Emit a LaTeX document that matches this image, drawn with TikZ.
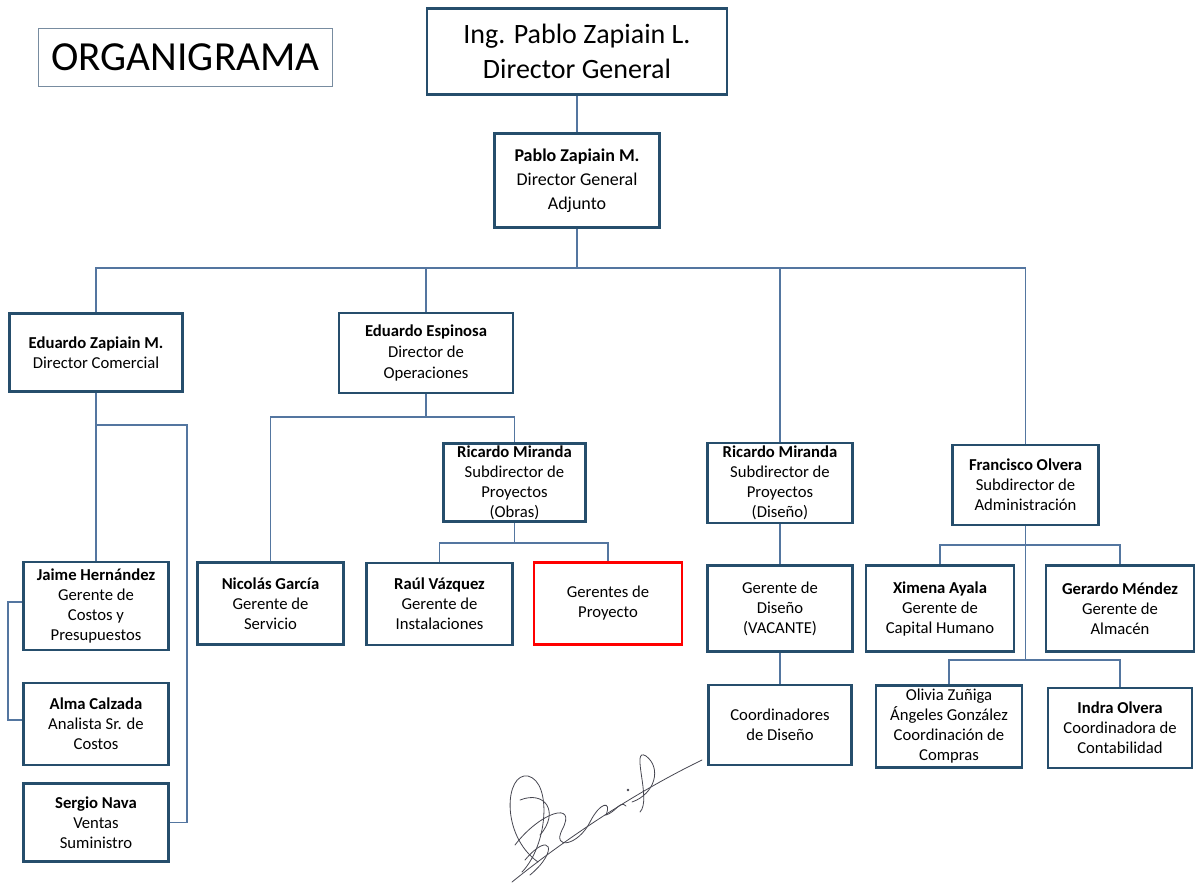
\documentclass[tikz,border=0pt]{standalone}
\usepackage{fontspec}
\setmainfont{Carlito}
\usepackage{xcolor}
\usetikzlibrary{positioning}

\definecolor{boxblue}{RGB}{38,78,108}
\definecolor{linkblue}{RGB}{84,118,160}
\definecolor{titleline}{RGB}{120,140,160}
\definecolor{sigink}{RGB}{70,70,80}

\begin{document}
\begin{tikzpicture}[x=0.75pt, y=-0.75pt,
  box/.style={draw=boxblue, line width=2.2pt, fill=white, align=center, inner sep=1pt,
    font=\fontsize{12.5}{15}\selectfont},
  redbox/.style={box, draw=red},
  link/.style={draw=linkblue, line width=1.1pt},
  sig/.style={draw=sigink, line width=0.6pt, line cap=round}]
  \useasboundingbox (0,0) rectangle (1195,888);

  % title and top levels
  \node[draw=titleline, line width=0.8pt, minimum width=221pt, minimum height=44pt,
    font=\fontsize{31}{36}\selectfont] (titulo) at (185.5,57.5) {ORGANIGRAMA};
  \node[box, minimum width=225pt, minimum height=65pt, font=\fontsize{21}{26}\selectfont]
    (dg) at (577,51.5) {Ing. Pablo Zapiain L.\\Director General};
  \node[box, minimum width=124pt, minimum height=71pt, font=\fontsize{13.5}{18}\selectfont]
    (dga) at (577,180.5) {\textbf{Pablo Zapiain M.}\\Director General\\Adjunto};

  % directors
  \node[box, minimum width=130pt, minimum height=59pt] (ez) at (96,352.5)
    {\textbf{Eduardo Zapiain M.}\\Director Comercial};
  \node[box, minimum width=130.5pt, minimum height=60pt, font=\fontsize{12.5}{16}\selectfont]
    (ee) at (426,353) {\textbf{Eduardo Espinosa}\\Director de\\Operaciones};
  \node[box, minimum width=107pt, minimum height=59pt, inner sep=0pt] (rmo) at (514.5,482.5)
    {\textbf{Ricardo Miranda}\\Subdirector de\\Proyectos\\(Obras)};
  \node[box, minimum width=109pt, minimum height=60pt, inner sep=0pt] (rmd) at (780,483)
    {\textbf{Ricardo Miranda}\\Subdirector de\\Proyectos\\(Diseño)};
  \node[box, minimum width=110pt, minimum height=60pt] (fo) at (1025.5,485)
    {\textbf{Francisco Olvera}\\Subdirector de\\Administración};

  % comercial
  \node[box, minimum width=109pt, minimum height=66pt] (jh) at (96,606)
    {\textbf{Jaime Hernández}\\Gerente de\\Costos y\\Presupuestos};
  \node[box, minimum width=109pt, minimum height=61.5pt] (ac) at (96,724)
    {\textbf{Alma Calzada}\\Analista Sr. de\\Costos};
  \node[box, minimum width=109pt, minimum height=59pt] (sn) at (96,822.5)
    {\textbf{Sergio Nava}\\Ventas\\Suministro};

  % operaciones
  \node[box, minimum width=109pt, minimum height=61pt] (ng) at (270.5,603.5)
    {\textbf{Nicolás García}\\Gerente de\\Servicio};
  \node[box, minimum width=109pt, minimum height=61.5pt] (rv) at (439.5,604)
    {\textbf{Raúl Vázquez}\\Gerente de\\Instalaciones};
  \node[redbox, minimum width=111pt, minimum height=62pt] (gp) at (608,603.5)
    {Gerentes de\\Proyecto};

  % diseño
  \node[box, minimum width=109pt, minimum height=65pt] (gd) at (780,608.5)
    {Gerente de\\Diseño\\(VACANTE)};
  \node[box, minimum width=107pt, minimum height=60pt] (cd) at (780,725)
    {Coordinadores\\de Diseño};

  % administración
  \node[box, minimum width=111pt, minimum height=65pt] (xa) at (940,608.5)
    {\textbf{Ximena Ayala}\\Gerente de\\Capital Humano};
  \node[box, minimum width=111pt, minimum height=65pt] (gm) at (1120,608.5)
    {\textbf{Gerardo Méndez}\\Gerente de\\Almacén};
  \node[box, minimum width=109.5pt, minimum height=61pt, inner sep=0pt] (oz) at (949,726.5)
    {Olivia Zuñiga\\Ángeles González\\Coordinación de\\Compras};
  \node[box, minimum width=108pt, minimum height=60pt] (io) at (1120,728)
    {\textbf{Indra Olvera}\\Coordinadora de\\Contabilidad};

  % bus points
  \coordinate (bus) at (577,268);
  \coordinate (eek) at (426,417);
  \coordinate (rmk) at (514.5,543);
  \coordinate (ezk) at (96,425);
  \coordinate (snk) at (187,822.5);
  \coordinate (jhk) at (8,602);
  \coordinate (ack) at (8,720);
  \coordinate (fok) at (1025.5,545);
  \coordinate (fol) at (1025.5,660);

  \draw[link] (dg) -- (dga);
  \draw[link] (dga) -- (bus);
  \draw[link] (bus) -| (ez);
  \draw[link] (bus) -| (ee);
  \draw[link] (bus) -| (rmd);
  \draw[link] (bus) -| (fo);

  \draw[link] (ez) -- (jh);
  \draw[link] (ezk) -| (snk) -- (sn);
  \draw[link] (jh.west |- jhk) -- (jhk) -- (ack) -- (ac.west |- ack);

  \draw[link] (ee) -- (eek);
  \draw[link] (eek) -| (ng);
  \draw[link] (eek) -| (rmo);
  \draw[link] (rmo) -- (rmk);
  \draw[link] (rmk) -| (rv);
  \draw[link] (rmk) -| (gp);

  \draw[link] (rmd) -- (gd);
  \draw[link] (gd) -- (cd);

  \draw[link] (fo) -- (fol);
  \draw[link] (fok) -| (xa);
  \draw[link] (fok) -| (gm);
  \draw[link] (fol) -| (oz);
  \draw[link] (fol) -| (io);

  % signature
  \draw[sig] (512,882) .. controls (570,835) and (640,790) .. (702,760);
  \draw[sig] (538,862) .. controls (500,835) and (505,772) .. (528,776)
    .. controls (552,782) and (548,845) .. (522,872);
  \draw[sig] (515,845) .. controls (540,812) and (578,800) .. (562,830)
    .. controls (552,850) and (578,846) .. (590,822);
  \draw[sig] (590,822) .. controls (600,802) and (612,800) .. (606,815)
    .. controls (616,812) and (620,800) .. (626,806);
  \draw[sig] (632,802) .. controls (655,794) and (662,768) .. (646,756)
    .. controls (630,746) and (652,800) .. (640,812);
  \draw[sig] (520,800) .. controls (545,790) and (560,812) .. (540,835);
  \draw[sig] (525,860) .. controls (550,830) and (560,850) .. (530,875);
  \fill[sigink] (628,790) circle (1pt);
\end{tikzpicture}
\end{document}
